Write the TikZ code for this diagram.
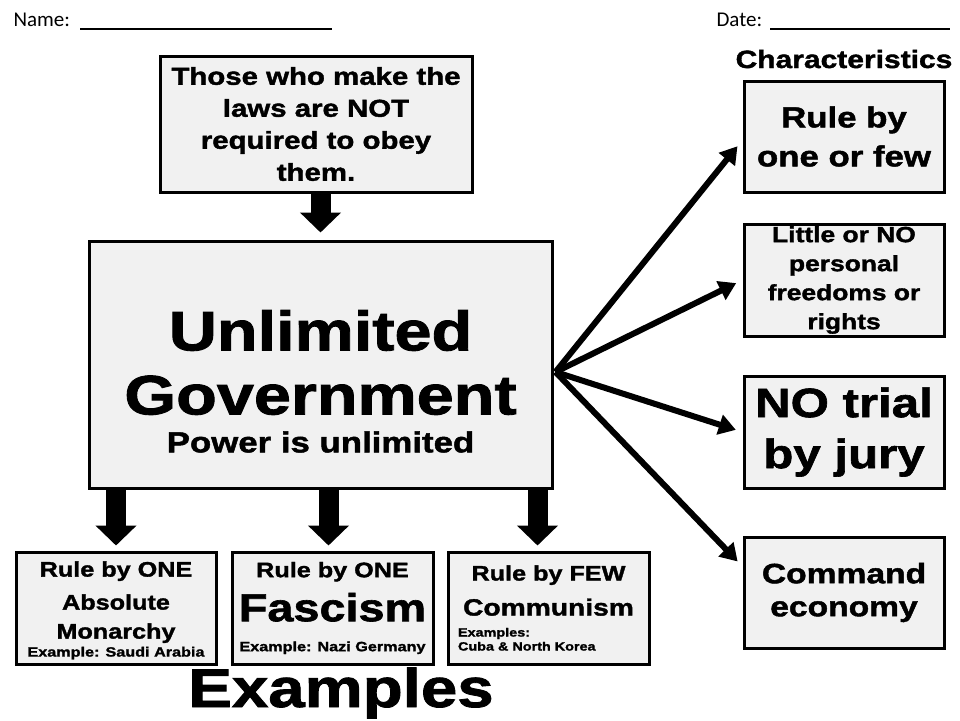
\documentclass[tikz,border=0pt]{standalone}
\usepackage{fontspec}
\setmainfont{Liberation Sans}[FakeStretch=1.2, BoldFeatures={FakeBold=1.6}]
\newfontfamily\formfont{Carlito}
\usepackage{xcolor}
\usetikzlibrary{arrows.meta,calc,positioning}
\definecolor{panelgray}{HTML}{F1F1F1}
\newcommand{\sz}[2]{\fontsize{#1}{#2}\selectfont}
\tikzset{%
	panel/.style     = {draw, rectangle, fill=panelgray, line width=3pt, inner sep=0pt, align=center, minimum width=200pt, minimum height=112pt},
	downarrow/.style = {line width=20pt, -{Triangle[width=40pt,length=20pt]}},
	fanarrow/.style  = {line width=6pt, -{Triangle[width=20pt,length=17pt]}},
}

\begin{document}
\begin{tikzpicture}[x=1pt,y=-1pt]
	
	\useasboundingbox (0,0) rectangle (960,720);
	\clip (0,0) rectangle (960,720);
	
	% header
	\node[anchor=base west, font=\formfont\sz{21}{25}] (name) at (10,27) {Name:};
	\draw[line width=2pt] (80,29) -- (332,29);
	\node[anchor=base west, font=\formfont\sz{21}{25}] (date) at (713,27) {Date:};
	\draw[line width=2pt] (770,29) -- (950,29);
	
	% centre
	\node[panel, minimum width=312pt, minimum height=136pt, font=\bfseries\sz{24.5}{32}] (laws) at (316,124) {Those who make the\\laws are NOT\\required to obey\\them.};
	\node[panel, minimum width=463pt, minimum height=247pt, font=\bfseries\sz{55.5}{64}] (gov) at (320.5,364.5) {\rule{0pt}{74pt}Unlimited\\Government\\[-26pt]{\sz{29}{34}Power is unlimited}};
	
	% characteristics
	\node[anchor=base, font=\bfseries\sz{25}{30}] (chartitle) at (844,68) {Characteristics};
	\node[panel, minimum height=111pt, font=\bfseries\sz{29}{39}] (onefew) at (844,136.5) {Rule by\\one or few};
	\node[panel, font=\bfseries\sz{22}{29}] (rights) at (844,280) {Little or NO\\personal\\freedoms or\\rights};
	\node[panel, font=\bfseries\sz{41}{51}] (jury) at (844,432) {NO trial\\by jury};
	\node[panel, minimum height=111pt, font=\bfseries\sz{28}{33}] (command) at (844,592.5) {Command\\economy};
	
	% examples
	\node[panel, font=\bfseries\sz{21}{33}] (monarchy) at (116,608) {\rule{0pt}{20pt}Rule by ONE\\Absolute\\[-4pt]Monarchy\\[-15pt]{\sz{13.5}{16}Example: Saudi Arabia}};
	\node[panel, minimum width=201pt, font=\bfseries\sz{21}{44}] (fascism) at (332.5,608) {Rule by ONE\\{\sz{39}{44}Fascism}\\[-14pt]{\sz{13.5}{16}Example: Nazi Germany}};
	\node[panel, minimum width=201pt, font=\bfseries\sz{21}{35}] (communism) at (548.5,608) {Rule by FEW\\{\sz{23.5}{28}Communism}\\[-14pt]\makebox[181pt][l]{\sz{12}{14}Examples:}\\[-21pt]\makebox[181pt][l]{\sz{12}{14}Cuba \& North Korea}};
	\node[anchor=base, font=\bfseries\sz{54.5}{60}] (extitle) at (341,707) {Examples};
	
	% arrows
	\draw[downarrow, shorten >=7pt] (gov.north |- laws.south) -- (gov.north);
	\foreach \b/\dx in {monarchy/0, fascism/-4, communism/-11} {
		\coordinate (top) at ($(\b.north)+(\dx,0)$);
		\draw[downarrow, shorten >=5pt] (top |- gov.south) -- (top);
	}
	
	\coordinate (hub) at ($(gov.east)+(2,7.5)$);
	\draw[fanarrow, shorten >=8pt] (hub) -- ($(onefew.west)+(0,3.5)$);
	\draw[fanarrow, shorten >=7pt] (hub) -- (rights.west);
	\draw[fanarrow, shorten >=7pt] (hub) -- (jury.west);
	\draw[fanarrow, shorten >=7pt] (hub) -- ($(command.west)+(0,-26)$);
	
\end{tikzpicture}
\end{document}
